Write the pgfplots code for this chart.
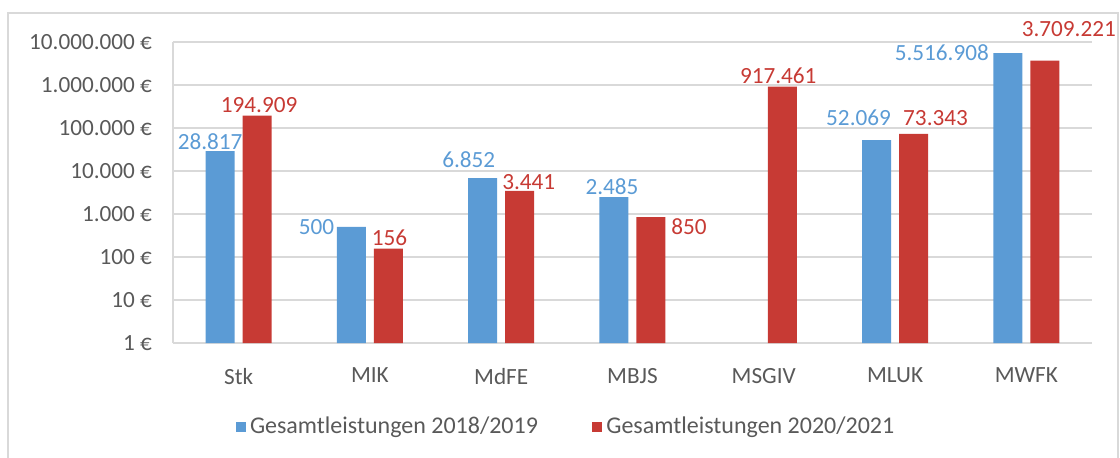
\documentclass[border=0pt]{standalone}
\usepackage{fontspec}
\setmainfont{Carlito}
\usepackage{pgfplots}
\usepackage{pgfplotstable}
\pgfplotsset{compat=1.18}
\definecolor{cblue}{HTML}{5B9BD5}
\definecolor{cred}{HTML}{C73A34}
\definecolor{tgray}{HTML}{595959}
\definecolor{ggray}{HTML}{D9D9D9}
\newcommand{\cf}{\fontsize{11.6pt}{13pt}\selectfont}
\newcommand{\lf}{\fontsize{12pt}{14pt}\selectfont}

\pgfplotstableread{
x y dx dy label
0 28817 -5 5 28.817
1 500 -17.5 0 500
2 6852 -7 9 6.852
3 2485 -1 5 2.485
5 52069 -9 11 52.069
6 5516908 -33 0 5.516.908
}\blue
\pgfplotstableread{
x y dx dy label
0 194909 1 5 194.909
1 156 0.5 5.5 156
2 3441 4.5 4.5 3.441
3 850 19 -5 850
4 917461 -2 5.5 917.461
5 73343 11 8 73.343
6 3709221 12 15.5 3.709.221
}\red

\begin{document}
\begin{tikzpicture}[font=\cf]
\path[use as bounding box] (-86.5pt,-57pt) rectangle (473.5pt,171.5pt);
\draw[ggray, line width=0.75pt] (-82.5pt,-70pt) -- (-82.5pt,165pt) -- (472.5pt,165pt) -- (472.5pt,-70pt);
\begin{axis}[
  at={(0pt,0pt)}, anchor=south west,
  scale only axis, width=459.5pt, height=150.5pt,
  ymode=log, log origin=infty,
  ymin=1, ymax=1e7,
  xmin=-0.5, xmax=6.5,
  ybar=4pt, bar width=14.5pt,
  axis lines*=left,
  axis line style={ggray, line width=0.75pt, -},
  major tick length=0pt, minor tick length=0pt,
  yminorticks=false,
  ymajorgrids, grid style={ggray, line width=0.75pt},
  ytick={1,10,100,1000,10000,100000,1000000,10000000},
  yticklabels={1 €,10 €,100 €,1.000 €,10.000 €,100.000 €,1.000.000 €,10.000.000 €},
  xtick={0,...,6},
  xticklabels={Stk,MIK,MdFE,MBJS,MSGIV,MLUK,MWFK},
  tick label style={font=\cf, text=tgray},
  yticklabel style={xshift=-7pt},
  xticklabel style={yshift=-9pt},
  point meta=explicit symbolic,
  visualization depends on={\thisrow{dx} \as \dx},
  visualization depends on={\thisrow{dy} \as \dy},
  nodes near coords,
  nodes near coords align={center},
  every node near coord/.append style={font=\cf, xshift=\dx pt, yshift=\dy pt},
  legend columns=2,
  legend style={at={(0.4287,-0.279)}, anchor=center, draw=none, fill=none, font=\lf, text=tgray,
    /tikz/every even column/.append style={column sep=25pt}},
  legend image code/.code={\fill[#1, draw=none] (0pt,-2.6pt) rectangle (5.2pt,2.6pt);},
]
\addplot[fill=cblue, draw=none, every node near coord/.append style={text=cblue}] table[x=x, y=y, meta=label] {\blue};
\addlegendentry{Gesamtleistungen 2018/2019}
\addplot[fill=cred, draw=none, every node near coord/.append style={text=cred}] table[x=x, y=y, meta=label] {\red};
\addlegendentry{Gesamtleistungen 2020/2021}
\end{axis}
\end{tikzpicture}
\end{document}
